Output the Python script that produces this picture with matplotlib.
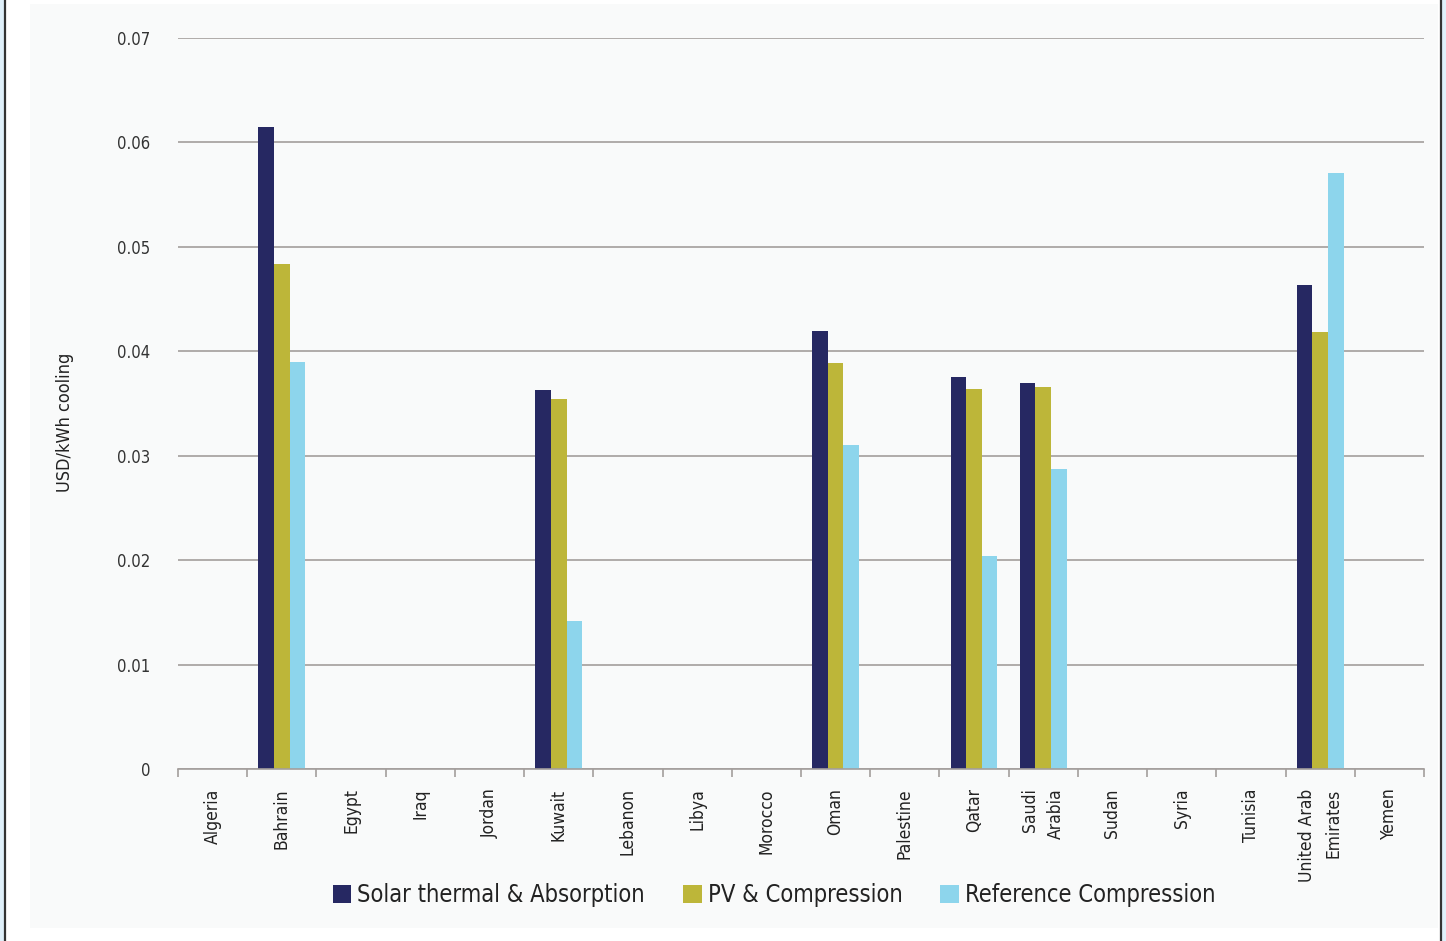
import matplotlib
matplotlib.use("Agg")
import matplotlib.pyplot as plt
import numpy as np
from matplotlib import font_manager
from matplotlib.patches import Rectangle

# prefer a narrow sans face
names = {f.name for f in font_manager.fontManager.ttflist}
if "Liberation Sans Narrow" in names:
    plt.rcParams["font.family"] = ["Liberation Sans Narrow", "DejaVu Sans"]
else:
    plt.rcParams["font.family"] = ["DejaVu Sans"]
    plt.rcParams["font.stretch"] = "condensed"

countries = ["Algeria", "Bahrain", "Egypt", "Iraq", "Jordan", "Kuwait", "Lebanon",
             "Libya", "Morocco", "Oman", "Palestine", "Qatar", "Saudi\nArabia",
             "Sudan", "Syria", "Tunisia", "United Arab\nEmirates", "Yemen"]
solar_absorption = [0, 0.0615, 0, 0, 0, 0.0363, 0, 0, 0, 0.0419, 0, 0.0375, 0.0370,
                    0, 0, 0, 0.0463, 0]
pv_compression = [0, 0.0484, 0, 0, 0, 0.0354, 0, 0, 0, 0.0389, 0, 0.0364, 0.0366,
                  0, 0, 0, 0.0418, 0]
reference_compression = [0, 0.0390, 0, 0, 0, 0.0142, 0, 0, 0, 0.0310, 0, 0.0204, 0.0287,
                         0, 0, 0, 0.0571, 0]
series_names = ["Solar thermal & Absorption", "PV & Compression", "Reference Compression"]
colors = ["#262862", "#bdb639", "#8dd5ec"]
yticks = [0, 0.01, 0.02, 0.03, 0.04, 0.05, 0.06, 0.07]
ytick_labels = ["0", "0.01", "0.02", "0.03", "0.04", "0.05", "0.06", "0.07"]

W, H = 1446, 941
fig = plt.figure(figsize=(W / 100, H / 100), dpi=100, facecolor="white")

# page frame
fig.patches.append(Rectangle((0, 0), 1, 1, transform=fig.transFigure,
                             facecolor="#dff0fa", edgecolor="none", zorder=-3))
fig.patches.append(Rectangle((5 / W, 0), (1440 - 5) / W, 1, transform=fig.transFigure,
                             facecolor="white", edgecolor="none", zorder=-2))
fig.patches.append(Rectangle((30 / W, (H - 928) / H), (1438 - 30) / W, (928 - 4) / H,
                             transform=fig.transFigure, facecolor="#f9fafa",
                             edgecolor="none", zorder=-1))
for xp in (4.5, 1440.5):
    fig.add_artist(plt.Line2D([xp / W, xp / W], [0, 1], transform=fig.transFigure,
                              color="#333333", lw=1.6))

left, right, top, bottom = 178, 1424, 38, 769
ax = fig.add_axes([left / W, 1 - bottom / H, (right - left) / W, (bottom - top) / H])
ax.set_facecolor("none")

n = len(countries)
x = np.arange(n)
bw = 0.225
for i, (vals, c, lab) in enumerate(zip([solar_absorption, pv_compression, reference_compression],
                                       colors, series_names)):
    ax.bar(x + (i - 1) * bw, vals, width=bw, color=c, label=lab, zorder=3)

ax.set_xlim(-0.5, n - 0.5)
ax.set_ylim(0, 0.07)
ax.set_yticks(yticks)
ax.set_yticklabels(ytick_labels, fontsize=12, color="#333333")
ax.grid(axis="y", color="#a39e9c", lw=1.2, zorder=1)
ax.tick_params(axis="y", length=0, pad=20)

for s in ["top", "right", "left"]:
    ax.spines[s].set_visible(False)
ax.spines["bottom"].set_color("#a39e9c")
ax.spines["bottom"].set_linewidth(1.2)
ax.spines["bottom"].set_zorder(4)

# boundary ticks between countries, labels centred under each country
ax.set_xticks(np.arange(-0.5, n, 1.0))
ax.set_xticklabels([])
ax.tick_params(axis="x", which="major", length=6, color="#a39e9c", width=1.2)
ax.set_xticks(x, minor=True)
ax.set_xticklabels(countries, minor=True, rotation=90, fontsize=12.5, color="#222222",
                   va="top", ha="center", multialignment="right", linespacing=1.55)
ax.tick_params(axis="x", which="minor", length=0, pad=14)

fig.text(65 / W, 1 - 422 / H, "USD/kWh cooling", rotation=90, fontsize=13,
         color="#222222", ha="center", va="center")

leg = fig.legend(loc="center", bbox_to_anchor=(774 / W, 1 - 895 / H), ncol=3,
                 frameon=False, fontsize=17, handlelength=0.8, handleheight=0.8,
                 handletextpad=0.25, columnspacing=1.6)
for t in leg.get_texts():
    t.set_color("#222222")

fig.savefig("out.png", dpi=100, facecolor=fig.get_facecolor())
